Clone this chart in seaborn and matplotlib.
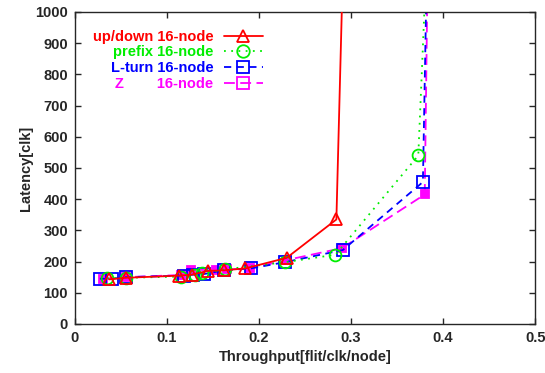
import matplotlib
matplotlib.use("Agg")
import matplotlib.pyplot as plt
import seaborn as sns
from matplotlib.lines import Line2D

# throughput [flit/clk/node] vs latency [clk]
updown_x = [0.037, 0.055, 0.113, 0.127, 0.144, 0.162, 0.185, 0.230, 0.284, 0.2925]
updown_y = [143, 148, 155, 158, 170, 172, 178, 212, 335, 1300]

prefix_x = [0.035, 0.055, 0.115, 0.130, 0.138, 0.163, 0.228, 0.283, 0.373, 0.381]
prefix_y = [146, 148, 152, 158, 162, 175, 198, 222, 540, 1100]

lturn_x = [0.027, 0.040, 0.055, 0.118, 0.128, 0.140, 0.162, 0.191, 0.228, 0.291, 0.378, 0.382]
lturn_y = [145, 145, 150, 155, 158, 160, 172, 178, 198, 237, 455, 1100]

z_x = [0.030, 0.055, 0.115, 0.126, 0.153, 0.165, 0.190, 0.230, 0.290, 0.380, 0.383]
z_y = [145, 150, 157, 174, 172, 175, 178, 205, 243, 415, 1100]

labels = ["up/down 16-node", "prefix 16-node", "L-turn 16-node", "Z        16-node"]
x_ticks = [0, 0.1, 0.2, 0.3, 0.4, 0.5]
x_ticklabels = ["0", "0.1", "0.2", "0.3", "0.4", "0.5"]
y_ticks = list(range(0, 1001, 100))

sns.set_style("ticks")
plt.rcParams["font.family"] = ["Liberation Sans", "DejaVu Sans"]
plt.rcParams["font.weight"] = "bold"

fig = plt.figure(figsize=(5.45, 3.73), dpi=100)
ax = fig.add_axes([0.1376, 0.1314, 0.8444, 0.8366])

series = [
    (updown_x, updown_y, "#ff0000", "^", "-", "none", 8.5, 4),
    (prefix_x, prefix_y, "#00ee00", "o", (0, (1, 3)), "none", 8.5, 3),
    (lturn_x, lturn_y, "#0000ff", "s", (0, (4, 3)), "none", 8.5, 2),
    (z_x, z_y, "#ff00ff", "s", (0, (6, 3)), "#ff00ff", 6, 1),
]

handles = []
for (xs, ys, col, mk, ls, fc, ms, z), lab in zip(series, labels):
    sns.lineplot(x=xs, y=ys, ax=ax, color=col, marker=mk, linestyle=ls,
                 sort=False, estimator=None, linewidth=1.3, markersize=ms,
                 markerfacecolor=fc, markeredgecolor=col, markeredgewidth=1.3,
                 zorder=z, legend=False)
    handles.append(Line2D([], [], color=col, marker=mk, linestyle=ls, linewidth=1.3,
                          markersize=9, markerfacecolor="none",
                          markeredgecolor=col, markeredgewidth=1.3, label=lab))

ax.set_xlim(0, 0.5)
ax.set_ylim(0, 1000)
ax.set_xticks(x_ticks)
ax.set_xticklabels(x_ticklabels)
ax.set_yticks(y_ticks)
ax.tick_params(direction="in", length=4, width=1, top=True, right=True,
               labelsize=10.5, pad=5)
for lbl in ax.get_xticklabels() + ax.get_yticklabels():
    lbl.set_fontweight("bold")
for sp in ax.spines.values():
    sp.set_linewidth(1)
    sp.set_visible(True)

ax.set_xlabel("Throughput[flit/clk/node]", fontsize=10.5, fontweight="bold", labelpad=4)
ax.set_ylabel("Latency[clk]", fontsize=10.5, fontweight="bold", labelpad=2)

leg = ax.legend(handles=handles, loc="upper left", bbox_to_anchor=(0.01, 0.985),
                frameon=False, markerfirst=False, labelcolor="linecolor",
                handlelength=2.7, handletextpad=0.7, labelspacing=0.12,
                prop={"size": 10.5, "weight": "bold"})

fig.savefig("out.png", dpi=100)
